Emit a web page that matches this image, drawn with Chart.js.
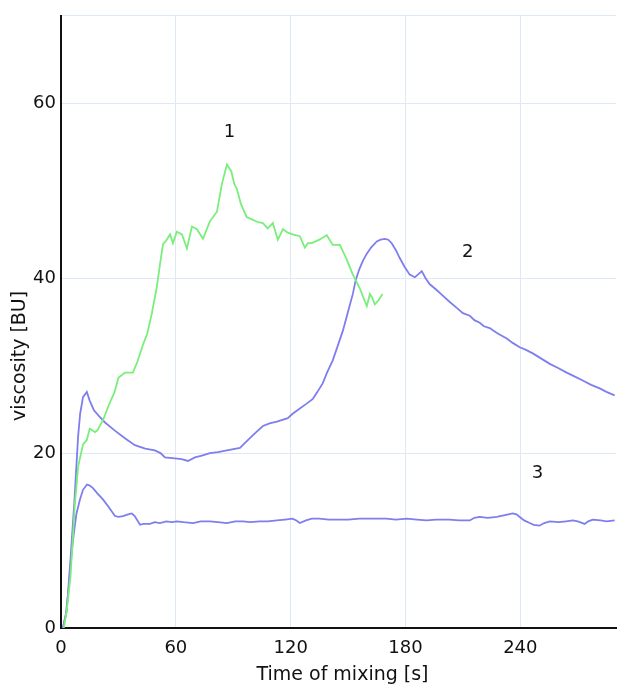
<!DOCTYPE html>
<html>
<head>
<meta charset="utf-8">
<script src="https://cdn.jsdelivr.net/npm/chart.js@4/dist/chart.umd.min.js"></script>
<style>
html,body{margin:0;padding:0;background:#fff;}
#wrap{width:619px;height:687px;position:relative;}
</style>
</head>
<body>
<div id="wrap"><canvas id="c" width="619" height="687"></canvas></div>
<script>
// Curve 1 (green)
const t1 = [1.5,3,5,7.3,9,11.5,13.5,15,17.7,19,22,25,28,30,33.4,37.6,40,43,45,47.5,50,52,53.3,55,57,58.5,60.5,63.2,65.8,68.4,71,74.2,77.8,81.5,84,86.7,89,90.5,91.9,94,97,100,103,105.5,108,110.7,113.3,116,118.5,121,124.8,127.4,129,131,135,138.9,142,145.7,149,152.5,156,159.8,161.4,162.5,164,166,168];
const v1 = [0,2,6,14.3,18.5,21,21.5,22.8,22.4,22.6,23.8,25.5,27,28.6,29.2,29.2,30.5,32.5,33.6,36,38.9,42,43.9,44.3,45,44,45.3,45,43.4,45.9,45.6,44.5,46.5,47.6,50.7,53,52.2,50.8,50.2,48.5,47,46.7,46.4,46.3,45.7,46.3,44.4,45.6,45.2,45,44.8,43.5,44,44,44.4,44.9,43.8,43.8,42.3,40.4,38.9,36.8,38.2,37.8,37,37.5,38.2];
// Curve 2 (blue, upper)
const t2 = [1,3,5,7,8.9,10,11.5,13.5,15,17.2,20,23,28,33.4,38.6,44,49,52,54.3,59.5,63,66.3,70,73.6,77.8,82,86.7,93.5,98.7,102,105.5,109,112.8,118.5,121,124.8,128,131.6,134,136.8,139,142,144.5,147.3,150,152.5,154,156,157.8,159.8,162,165,167,169.2,171,172.8,175,177,179.5,182.2,184.9,186.5,188.5,190.5,192.7,196,199.5,203,206.8,210,213.6,216,218.8,221,224,228,232.9,236,239.7,243,246.5,251,255.4,260,264.2,268,272.6,277,281.5,285,289.3];
const v2 = [0,2,8,14.5,21.8,24.5,26.4,27,26,24.9,24.2,23.5,22.6,21.7,20.9,20.5,20.3,20,19.5,19.4,19.3,19.1,19.5,19.7,20,20.1,20.3,20.6,21.7,22.4,23.1,23.4,23.6,24,24.5,25.1,25.6,26.2,27,28,29.2,30.6,32.2,34,36.2,38.2,39.8,41.1,42,42.8,43.5,44.2,44.4,44.5,44.4,44,43.2,42.3,41.3,40.4,40.1,40.4,40.8,40,39.3,38.7,38,37.3,36.6,36,35.7,35.2,34.9,34.5,34.3,33.7,33.1,32.6,32.1,31.8,31.4,30.8,30.2,29.7,29.2,28.8,28.3,27.8,27.4,27,26.6];
// Curve 3 (blue, lower)
const t3 = [1,2.5,4,5.3,6.3,8,9.9,11.5,13.6,15,16.7,19,21.9,25,28.2,30,32.4,35,37,38.5,41.3,43,46.5,49,51.7,55,58,60.5,64,69,73,77.8,82,86.7,91,95,99,103.9,108,112.8,117,121,123,124.8,128,131,135,140,145.7,150,156,163,170,175,180.7,186,191,196,203,208,213.6,216,218.8,223,227.7,232,236,238,239.7,242,244.9,247,250,252.5,255.4,260,264,267.4,270,273.6,275.5,277.8,282,285,289.3];
const v3 = [0,1.5,4.5,8,10.1,13,14.7,15.8,16.4,16.3,16,15.4,14.7,13.8,12.8,12.7,12.8,13,13.1,12.8,11.8,11.9,11.9,12.1,12,12.2,12.1,12.2,12.1,12,12.2,12.2,12.1,12,12.2,12.2,12.1,12.2,12.2,12.3,12.4,12.5,12.3,12,12.3,12.5,12.5,12.4,12.4,12.4,12.5,12.5,12.5,12.4,12.5,12.4,12.3,12.4,12.4,12.3,12.3,12.6,12.7,12.6,12.7,12.9,13.1,13,12.7,12.3,12,11.8,11.7,12,12.2,12.1,12.2,12.3,12.2,11.9,12.2,12.4,12.3,12.2,12.3];

const xTicks = [0,60,120,180,240];
const yTicks = [0,20,40,60];
const curveLabels = ['1','2','3'];
const labelX = [88,212.5,249];
const labelY = [56.7,43,17.7];
const xTitle = 'Time of mixing [s]';
const yTitle = 'viscosity [BU]';

const GREEN = 'rgb(122,238,122)';
const BLUE = 'rgb(126,126,238)';
const GRID = 'rgb(222,233,245)';
const FONT = '"DejaVu Sans", Verdana, sans-serif';

function pts(t, v){ return t.map((x,i)=>({x:x, y:v[i]})); }

const textPlugin = {
  id:'texts',
  afterDraw(chart){
    const ctx = chart.ctx, xs = chart.scales.x, ys = chart.scales.y, ca = chart.chartArea;
    ctx.save();
    ctx.fillStyle = '#111';
    ctx.textAlign = 'center';
    ctx.textBaseline = 'middle';
    ctx.font = '18px ' + FONT;
    curveLabels.forEach((s,i)=>{
      ctx.fillText(s, xs.getPixelForValue(labelX[i]), ys.getPixelForValue(labelY[i]));
    });
    ctx.font = '19px ' + FONT;
    ctx.fillText(xTitle, (ca.left+ca.right)/2 + 4, ca.bottom + 47);
    ctx.translate(20, (ca.top+ca.bottom)/2 + 34);
    ctx.rotate(-Math.PI/2);
    ctx.fillText(yTitle, 0, 0);
    ctx.restore();
  }
};

new Chart(document.getElementById('c'), {
  type:'line',
  data:{
    datasets:[
      {data:pts(t1,v1), borderColor:GREEN, borderWidth:1.8, pointRadius:0, tension:0, fill:false},
      {data:pts(t2,v2), borderColor:BLUE, borderWidth:1.8, pointRadius:0, tension:0, fill:false},
      {data:pts(t3,v3), borderColor:BLUE, borderWidth:1.8, pointRadius:0, tension:0, fill:false}
    ]
  },
  options:{
    responsive:false,
    animation:false,
    layout:{padding:{top:12,right:3,left:0,bottom:0}},
    plugins:{legend:{display:false}, tooltip:{enabled:false}},
    scales:{
      x:{
        type:'linear', min:0, max:290,
        afterBuildTicks(s){ s.ticks = xTicks.map(v=>({value:v})); },
        afterFit(s){ s.height = 59; },
        grid:{color:GRID, lineWidth:1, drawTicks:false},
        border:{color:'#111', width:2},
        ticks:{color:'#111', font:{size:18, family:FONT}, padding:10, maxRotation:0}
      },
      y:{
        type:'linear', min:0, max:70,
        afterBuildTicks(s){ s.ticks = yTicks.concat([70]).map(v=>({value:v})); },
        afterFit(s){ s.width = 61; },
        grid:{color:GRID, lineWidth:1, drawTicks:false},
        border:{color:'#111', width:2},
        ticks:{color:'#111', font:{size:18, family:FONT}, padding:5,
          callback:(v)=> yTicks.includes(v) ? String(v) : ''}
      }
    }
  },
  plugins:[textPlugin]
});
</script>
</body>
</html>
